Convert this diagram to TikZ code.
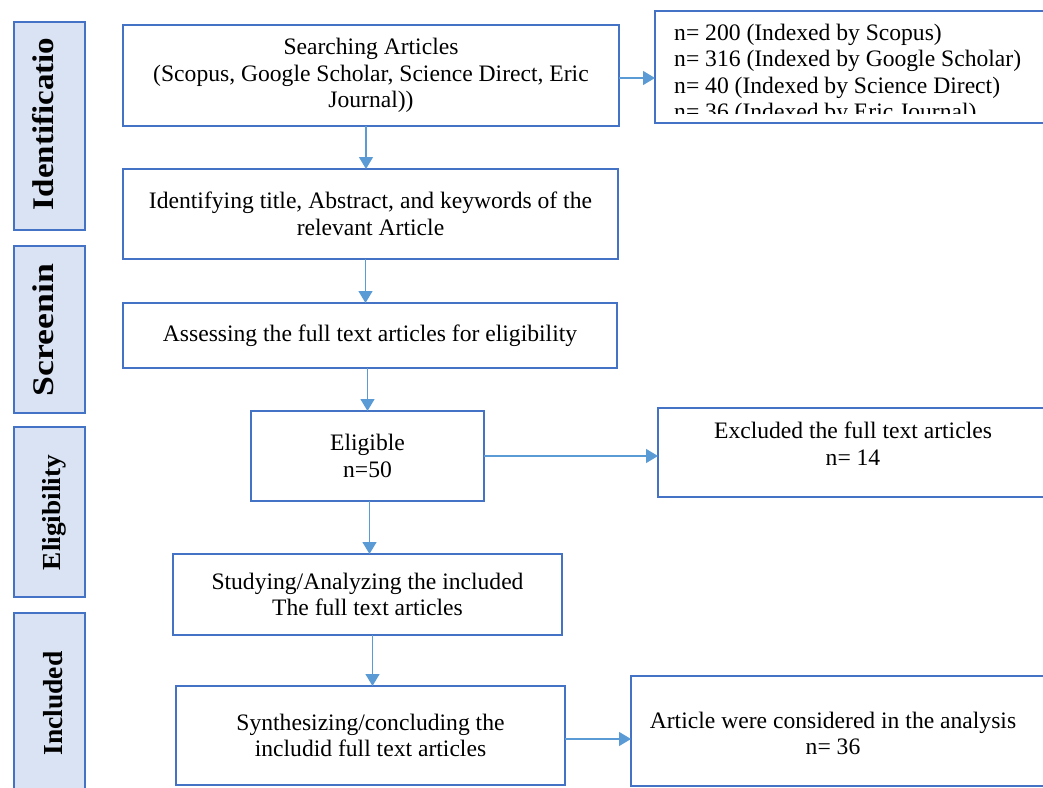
\documentclass[tikz,border=0pt]{standalone}
\usepackage{fontspec}
\setmainfont{Liberation Serif}
\usetikzlibrary{arrows.meta,calc}
\definecolor{boxblue}{HTML}{4472C4}
\definecolor{fillblue}{HTML}{DAE3F3}
\definecolor{arrblue}{HTML}{5B9BD5}
\tikzset{
  mainfont/.style={font=\fontsize{23.6}{26.5}\selectfont},
  mainbox/.style={draw=boxblue, line width=2.5pt, inner sep=0pt, outer sep=0pt, align=center, mainfont},
  sidebox/.style={draw=boxblue, fill=fillblue, line width=2.5pt, inner sep=0pt, outer sep=0pt},
  sidetext/.style={rotate=90, anchor=base, inner sep=0pt},
  txt/.style={inner sep=0pt, align=center, mainfont},
  arr/.style={draw=arrblue, line width=1.3pt, -{Triangle[length=12pt,width=14pt]}}
}
\begin{document}
\begin{tikzpicture}[x=1pt,y=-1pt]
\useasboundingbox (0,0) rectangle (1043,787);
\clip (0,0) rectangle (1043,787);
% side labels
\node[sidebox, minimum width=71pt, minimum height=208pt] (s1) at (49.5,126) {};
\node[sidebox, minimum width=71pt, minimum height=167pt] (s2) at (49.5,329.5) {};
\node[sidebox, minimum width=71pt, minimum height=170pt] (s3) at (49.5,512) {};
\node[sidebox, minimum width=71pt, minimum height=194pt] (s4) at (49.5,710) {};
\node[sidetext, font=\fontsize{30}{36}\selectfont\bfseries] (t1) at (53,124) {\scalebox{1.10}[1]{Identificatio}};
\node[sidetext, font=\fontsize{30}{36}\selectfont\bfseries] (t2) at (53,330) {\scalebox{1.19}[1]{Screenin}};
\node[sidetext, font=\fontsize{26}{30}\selectfont\bfseries] (t3) at (60,512.5) {\scalebox{1.05}[1]{Eligibility}};
\node[sidetext, font=\fontsize{27.5}{32}\selectfont\bfseries] (t4) at (62,703.5) {Included};
% main boxes
\node[mainbox, minimum width=496pt, minimum height=101pt] (search) at (371,75.5)
  {Searching Articles\\(Scopus, Google Scholar, Science Direct, Eric\\Journal))};
\node[mainbox, minimum width=495pt, minimum height=90pt] (ident) at (370.5,214)
  {Identifying title, Abstract, and keywords of the\\relevant Article};
\node[mainbox, minimum width=494pt, minimum height=65pt] (assess) at (370,335.5)
  {Assessing the full text articles for eligibility};
\node[mainbox, minimum width=233pt, minimum height=90pt] (elig) at (367.5,456)
  {Eligible\\n=50};
\node[mainbox, minimum width=389pt, minimum height=81pt] (stud) at (367.5,594.5)
  {Studying/Analyzing the included\\The full text articles};
\node[mainbox, minimum width=389pt, minimum height=99pt] (synth) at (370.5,735.5)
  {Synthesizing/concluding the\\includid full text articles};
% right boxes
\node[mainbox, minimum width=395pt, minimum height=112pt] (tr) at (852.5,67) {};
\begin{scope}
\clip (657,13) rectangle (1043,113);
\node[txt, align=left, anchor=base west] (trt) at (674,119.5)
  {n= 200 (Indexed by Scopus)\\n= 316 (Indexed by Google Scholar)\\n= 40 (Indexed by Science Direct)\\n= 36 (Indexed by Eric Journal)};
\end{scope}
\node[mainbox, minimum width=392pt, minimum height=89pt] (exc) at (854,452.5) {};
\node[txt] (exct) at (853,443.5) {Excluded the full text articles\\n= 14};
\node[mainbox, minimum width=419pt, minimum height=110pt] (art) at (840.5,731) {};
\node[txt] (artt) at (833,733.5) {Article were considered in the analysis\\n= 36};
% arrows
\coordinate (a1) at ([yshift=-2.5pt]search.east);
\draw[arr] (a1) -- (a1 -| tr.west);
\draw[arr] ([xshift=-5pt]search.south) -- ([xshift=-5pt]search.south |- ident.north);
\draw[arr] ([xshift=-5pt]ident.south) -- ([xshift=-5pt]ident.south |- assess.north);
\draw[arr] (assess.south -| elig.north) -- (elig.north);
\draw[arr] ([xshift=2pt]elig.south) -- ([xshift=2pt]elig.south |- stud.north);
\draw[arr] (elig.east) -- (elig.east -| exc.west);
\draw[arr] ([xshift=5pt]stud.south) -- ([xshift=5pt]stud.south |- synth.north);
\coordinate (a2) at ([yshift=-3.5pt]synth.east);
\draw[arr] (a2) -- (a2 -| art.west);
\end{tikzpicture}
\end{document}
